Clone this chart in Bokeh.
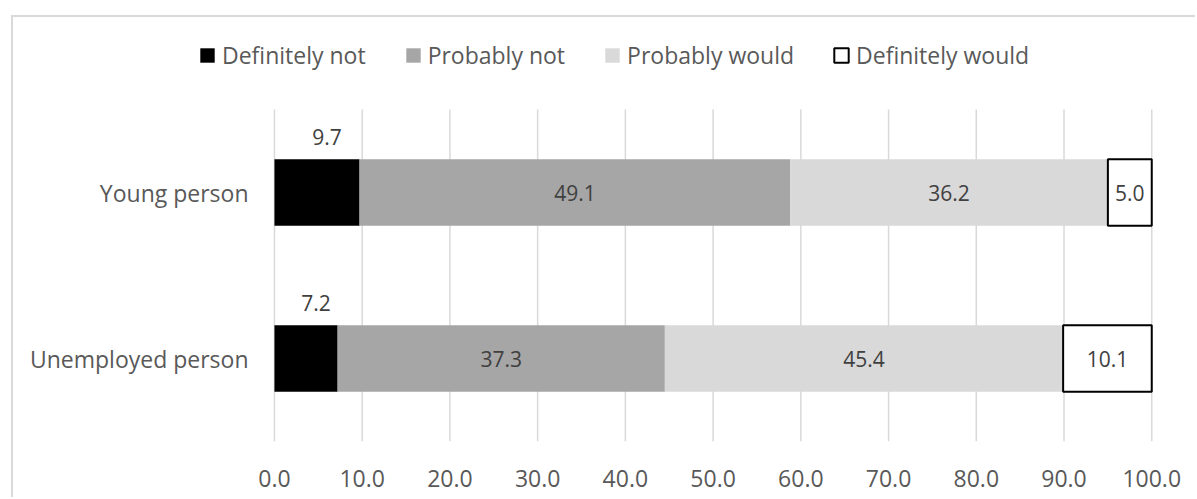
from bokeh.plotting import figure
from bokeh.models import (ColumnDataSource, Range1d, Legend, LegendItem,
                          FixedTicker, NumeralTickFormatter)
from bokeh.core.properties import value
from bokeh.embed import file_html
from bokeh.resources import INLINE
import numpy as np

# ---- data ----
categories = ["Unemployed person", "Young person"]
series = ["Definitely not", "Probably not", "Probably would", "Definitely would"]
definitely_not = [7.2, 9.7]
probably_not = [37.3, 49.1]
probably_would = [45.4, 36.2]
definitely_would = [10.1, 5.0]
x_ticks = [0, 10, 20, 30, 40, 50, 60, 70, 80, 90, 100]

fills = ["#000000", "#a6a6a6", "#d9d9d9", "#ffffff"]
lines = ["#000000", "#a6a6a6", "#d9d9d9", "#000000"]
line_alphas = [0.0, 0.0, 0.0, 1.0]

FONT = "Open Sans"

keys = ["dn", "pn", "pw", "dw"]
values = [definitely_not, probably_not, probably_would, definitely_would]
cat_pos = list(np.arange(len(categories)) + 0.5)   # band centres on the y scale
src = ColumnDataSource(dict(pos=cat_pos, **{k: v for k, v in zip(keys, values)}))

p = figure(width=1184, height=482,
           y_range=Range1d(0, 2.446),
           x_range=Range1d(-9.0, 100.2),
           output_backend="svg", toolbar_location=None,
           min_border_left=182, min_border_right=44, min_border_top=18, min_border_bottom=58)
p.styles = {"margin-left": "11px", "margin-top": "15px",
            "border-left": "2px solid #d9d9d9", "border-top": "2px solid #d9d9d9"}
p.outline_line_color = None
p.background_fill_color = "white"
p.border_fill_color = "white"
p.xgrid.visible = False
p.ygrid.visible = False

# vertical gridlines spanning the category bands only
p.segment(x0="x", x1="x", y0="y0", y1="y1",
          source=ColumnDataSource(dict(x=x_ticks, y0=[0] * len(x_ticks),
                                       y1=[len(categories)] * len(x_ticks))),
          line_color="#d9d9d9", line_width=1.5, level="underlay")

renderers = p.hbar_stack(keys, y="pos", height=0.4, source=src,
                         fill_color=fills, line_color=lines, line_alpha=line_alphas,
                         line_width=2)

# ---- data labels ----
arr = np.array(values)
cum = np.cumsum(arr, axis=0)
left = cum - arr
centers = left + arr / 2

in_x, in_y, in_t = [], [], []
for i in range(1, 4):
    for j in range(len(categories)):
        in_x.append(centers[i][j])
        in_y.append(cat_pos[j])
        in_t.append(f"{arr[i][j]:.1f}")
p.text(x="x", y="y", text="t", source=ColumnDataSource(dict(x=in_x, y=in_y, t=in_t)),
       text_align="center", text_baseline="middle", text_color="#404040",
       text_font=value(FONT), text_font_size="21px")

out_x = list(centers[0])
out_t = [f"{v:.1f}" for v in definitely_not]
p.text(x="x", y="y", text="t", source=ColumnDataSource(dict(x=out_x, y=cat_pos, t=out_t)),
       text_align="center", text_baseline="middle", text_color="#404040",
       text_font=value(FONT), text_font_size="21px", x_offset=10, y_offset=-56)

# ---- axes ----
p.xaxis.ticker = FixedTicker(ticks=x_ticks)
p.xaxis.formatter = NumeralTickFormatter(format="0.0")
p.xaxis.axis_line_color = None
p.xaxis.major_tick_line_color = None
p.xaxis.minor_tick_line_color = None
p.xaxis.major_label_text_font = FONT
p.xaxis.major_label_text_font_size = "23px"
p.xaxis.major_label_text_color = "#595959"
p.xaxis.major_label_standoff = 22

p.yaxis.ticker = FixedTicker(ticks=cat_pos)
p.yaxis.major_label_overrides = {float(pos): c for pos, c in zip(cat_pos, categories)}
p.yaxis.axis_line_color = None
p.yaxis.major_tick_line_color = None
p.yaxis.minor_tick_line_color = None
p.yaxis.major_label_text_font = FONT
p.yaxis.major_label_text_font_size = "23px"
p.yaxis.major_label_text_color = "#595959"
p.yaxis.major_label_standoff = -59

# ---- legend ----
items = [LegendItem(label=s, renderers=[r]) for s, r in zip(series, renderers)]
legend = Legend(items=items, orientation="horizontal", location=(3, 370),
                padding=0, margin=0, spacing=38, glyph_width=18, glyph_height=18,
                label_standoff=6, label_text_font=FONT, label_text_font_size="23px",
                label_text_color="#595959", border_line_color=None,
                background_fill_alpha=0)
p.add_layout(legend)

open("out.html", "w").write(file_html(p, INLINE))
